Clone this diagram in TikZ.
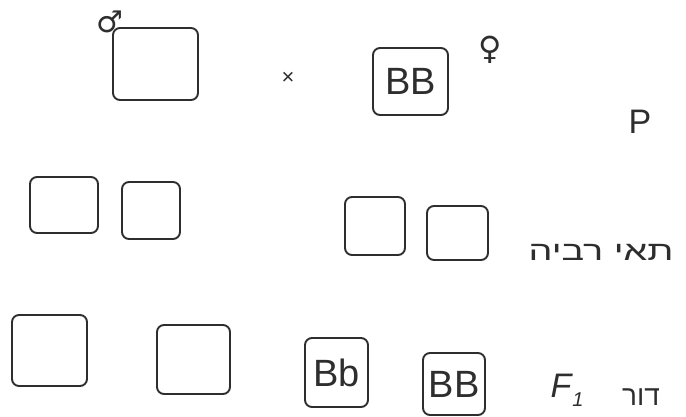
\documentclass[tikz,border=0pt]{standalone}
\usepackage{fontspec}
\setmainfont{Liberation Sans}
\newfontfamily\hebfont[Script=Hebrew]{Liberation Sans}
\newfontfamily\symfont{DejaVu Sans}
\TeXXeTstate=1
\definecolor{ink}{HTML}{2E2E2E}
\tikzset{
  cell/.style={draw=ink,line width=1.9pt,rounded corners=7pt,inner sep=0pt,text=ink},
  geno/.style={font=\fontsize{38}{38}\selectfont},
  lbl/.style={text=ink,inner sep=0pt}
}
\begin{document}
\begin{tikzpicture}[x=1pt,y=-1pt]
\useasboundingbox[fill=white] (0,0) rectangle (686,416);
% P generation
\node[cell,minimum width=85pt,minimum height=72pt] (male) at (155.5,64) {};
\node[lbl,font=\symfont\fontsize{30}{30}\selectfont] (malesym) at (110,22) {♂};
\node[lbl,font=\fontsize{22}{22}\selectfont] (cross) at (288,78) {×};
\node[cell,geno,minimum width=75pt,minimum height=67pt] (female) at (410.5,81.5) {BB};
\node[lbl,font=\symfont\fontsize{32}{32}\selectfont] (femsym) at (490,50) {♀};
\node[lbl,font=\fontsize{34}{34}\selectfont] (plabel) at (640,122) {P};
% gametes
\node[cell,minimum width=68pt,minimum height=56pt] (g1) at (64,205) {};
\node[cell,minimum width=58pt,minimum height=57pt] (g2) at (151,210.5) {};
\node[cell,minimum width=60pt,minimum height=58pt] (g3) at (375,226) {};
\node[cell,minimum width=61pt,minimum height=54pt] (g4) at (457.5,233) {};
\node[lbl,font=\hebfont\fontsize{27}{27}\selectfont] (gamlabel) at (601,252) {\scalebox{1.4}[1]{\beginR תאי רביה\endR}};
% F1 generation
\node[cell,minimum width=75pt,minimum height=71pt] (f1) at (49.5,350.5) {};
\node[cell,minimum width=73pt,minimum height=69pt] (f2) at (193.5,359.5) {};
\node[cell,geno,minimum width=63pt,minimum height=69pt] (f3) at (336.5,372.5) {Bb};
\node[cell,geno,minimum width=62pt,minimum height=62pt] (f4) at (454,384) {BB};
\node[lbl,font=\fontsize{34}{34}\selectfont\itshape] (flabel) at (567,390) {F\kern1pt\raisebox{-9pt}{\fontsize{20}{20}\selectfont 1}};
\node[lbl,font=\hebfont\fontsize{28}{28}\selectfont] (genlabel) at (641,397) {\beginR דור\endR};
\end{tikzpicture}
\end{document}
